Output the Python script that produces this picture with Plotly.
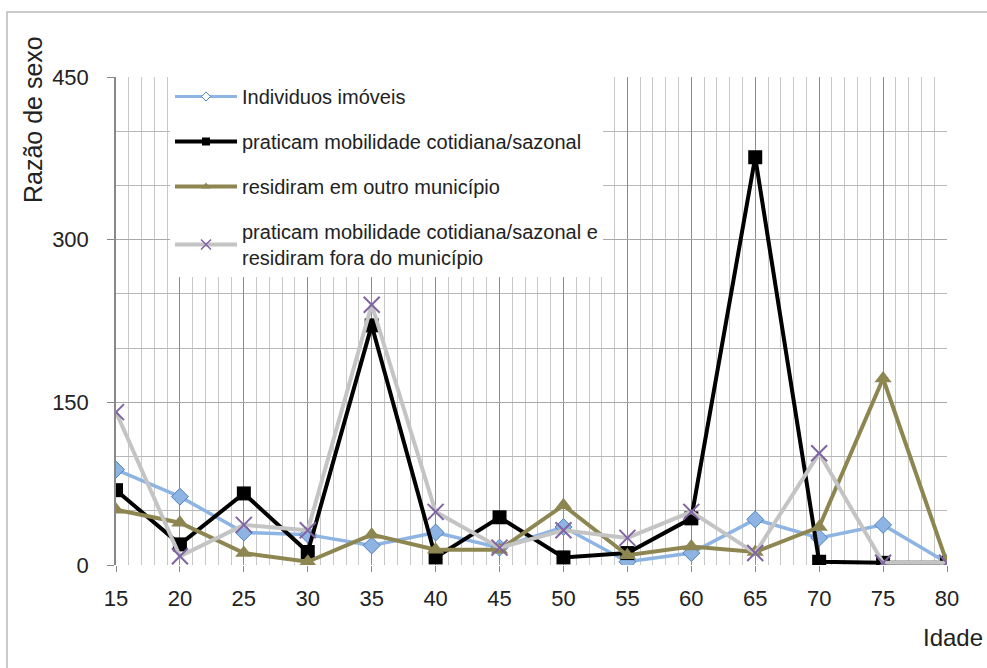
import plotly.graph_objects as go

idades = [15, 20, 25, 30, 35, 40, 45, 50, 55, 60, 65, 70, 75, 80]
imoveis = [88, 63, 30, 28, 18, 30, 16, 35, 3, 11, 42, 25, 37, 2]
mobilidade = [69, 19, 66, 12, 221, 7, 44, 7, 11, 43, 376, 3, 2, 2]
outro_municipio = [51, 39, 11, 3, 28, 14, 14, 55, 9, 17, 12, 35, 172, 2]
mob_e_fora = [141, 8, 37, 32, 240, 49, 16, 32, 25, 49, 11, 103, 2, 2]

nomes = [
    "Individuos imóveis",
    "praticam mobilidade cotidiana/sazonal",
    "residiram em outro município",
    "praticam mobilidade cotidiana/sazonal e<br>residiram fora do município",
]

FONT = "Liberation Sans, Arial, sans-serif"
TXT = "#222222"

estilos = [
    dict(line=dict(color="#8DB4E2", width=3.5),
         marker=dict(symbol="diamond", size=13, color="#8DB4E2", line=dict(color="#4F81BD", width=1)),
         lmarker=dict(symbol="diamond", size=7, color="white", line=dict(color="#4F81BD", width=1)),
         lline=dict(color="#8DB4E2", width=3)),
    dict(line=dict(color="#000000", width=4),
         marker=dict(symbol="square", size=14, color="#000000"),
         lmarker=dict(symbol="square", size=8, color="#000000"),
         lline=dict(color="#000000", width=4)),
    dict(line=dict(color="#8E8650", width=4),
         marker=dict(symbol="triangle-up", size=15, color="#8E8650"),
         lmarker=dict(symbol="triangle-up", size=8, color="#8E8650"),
         lline=dict(color="#8E8650", width=4)),
    dict(line=dict(color="#C4C4C4", width=4),
         marker=dict(symbol="x-thin", size=16, color="#8064A2", line=dict(color="#8064A2", width=2)),
         lmarker=dict(symbol="x-thin", size=10, color="#8064A2", line=dict(color="#8064A2", width=1.5)),
         lline=dict(color="#C4C4C4", width=4)),
]
series = [imoveis, mobilidade, outro_municipio, mob_e_fora]

fig = go.Figure()
for nome, vals, est in zip(nomes, series, estilos):
    fig.add_trace(go.Scatter(
        x=idades, y=vals, name=nome, mode="lines+markers", showlegend=False,
        line=est["line"], marker=est["marker"],
    ))
for i, (nome, est) in enumerate(zip(nomes, estilos)):
    fig.add_trace(go.Scatter(
        x=[None], y=[None], name=nome, mode="lines+markers", legendgroup=str(i),
        line=est["lline"], marker=est["lmarker"], showlegend=True,
    ))

fig.update_layout(
    width=987, height=668,
    margin=dict(l=116, r=40, t=77, b=103),
    paper_bgcolor="white", plot_bgcolor="white",
    font=dict(family=FONT, size=20, color=TXT),
    showlegend=True,
    legend=dict(
        x=(170 - 116) / 831, y=1.0, xanchor="left", yanchor="top",
        bgcolor="white", borderwidth=0,
        font=dict(family=FONT, size=20, color=TXT),
        tracegroupgap=16, itemwidth=62,
    ),
    xaxis=dict(
        range=[15, 80], tickmode="array", tickvals=idades,
        ticktext=[str(v) for v in idades],
        showgrid=True, gridcolor="#8C8C8C", gridwidth=1,
        minor=dict(dtick=1, tick0=15, showgrid=True, gridcolor="#C8C8C8", gridwidth=1),
        ticks="outside", ticklen=6, tickcolor="#888888", ticklabelstandoff=8,
        showline=False, zeroline=False,
        tickfont=dict(family=FONT, size=22, color=TXT),
    ),
    yaxis=dict(
        range=[0, 450], tickvals=[0, 150, 300, 450],
        showgrid=True, gridcolor="#A8A8A8", gridwidth=1,
        minor=dict(dtick=50, showgrid=True, gridcolor="#B8B8B8", gridwidth=1),
        ticks="outside", ticklen=7, tickcolor="#888888", ticklabelstandoff=14,
        showline=True, linecolor="#888888", linewidth=1.5, zeroline=False,
        tickfont=dict(family=FONT, size=22, color=TXT),
    ),
    annotations=[
        dict(text="Razão de sexo", textangle=-90, xref="paper", yref="paper",
             x=(33 - 116) / 831, y=(565 - 120) / 488, xanchor="center", yanchor="middle",
             showarrow=False, font=dict(family=FONT, size=25, color=TXT)),
        dict(text="Idade", xref="paper", yref="paper",
             x=(985 - 116) / 831, y=(565 - 637) / 488, xanchor="right", yanchor="middle",
             showarrow=False, font=dict(family=FONT, size=24, color=TXT)),
    ],
    shapes=[
        dict(type="rect", xref="paper", yref="paper",
             x0=(7 - 116) / 831, x1=(990 - 116) / 831,
             y0=(565 - 672) / 488, y1=(565 - 12) / 488,
             line=dict(color="#BBBBBB", width=1.5), layer="below"),
    ],
)

fig.write_html("out.html", config={"displayModeBar": False},
               post_script="document.body.style.margin='0';")
